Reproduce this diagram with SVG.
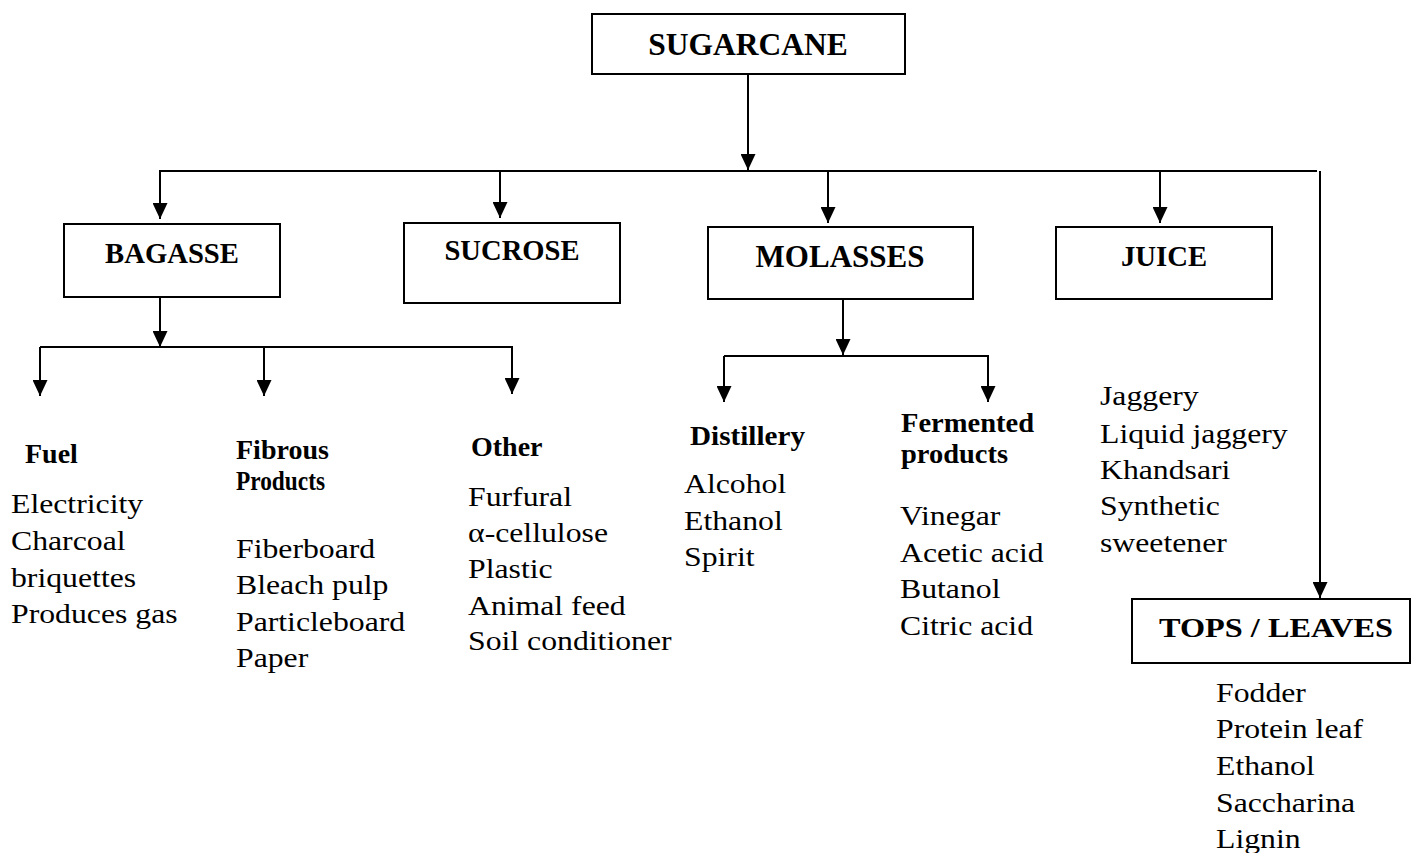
<svg xmlns="http://www.w3.org/2000/svg" width="1412" height="853" viewBox="0 0 1412 853">
  <style>
    .box { fill: #fff; stroke: #000; stroke-width: 2; }
    .wire { fill: none; stroke: #000; stroke-width: 2; }
    .title { font-family: "Liberation Serif", "Times New Roman", serif; font-weight: bold; fill: #000; text-anchor: middle; }
    .head { font-family: "Liberation Serif", "Times New Roman", serif; font-weight: bold; font-size: 28px; fill: #000; }
    .item { font-family: "Liberation Serif", "Times New Roman", serif; font-size: 27.6px; fill: #000; }
  </style>
  <defs>
    <marker id="arrow" markerUnits="userSpaceOnUse" markerWidth="16" markerHeight="15" refX="16" refY="7.5" orient="auto">
      <path d="M0,0 L16,7.5 L0,15 Z" fill="#000"/>
    </marker>
  </defs>

  <rect width="1412" height="853" fill="#fff"/>

  <!-- connectors -->
  <g id="connectors">
    <line class="wire" x1="748" y1="74" x2="748" y2="170" marker-end="url(#arrow)"/>
    <line class="wire" x1="159" y1="171" x2="1317" y2="171"/>
    <line class="wire" x1="160" y1="171" x2="160" y2="219" marker-end="url(#arrow)"/>
    <line class="wire" x1="500" y1="171" x2="500" y2="218" marker-end="url(#arrow)"/>
    <line class="wire" x1="828" y1="171" x2="828" y2="223" marker-end="url(#arrow)"/>
    <line class="wire" x1="1160" y1="171" x2="1160" y2="223" marker-end="url(#arrow)"/>
    <line class="wire" x1="1320" y1="171" x2="1320" y2="598" marker-end="url(#arrow)"/>

    <!-- bagasse branches -->
    <line class="wire" x1="160" y1="297" x2="160" y2="347" marker-end="url(#arrow)"/>
    <line class="wire" x1="40" y1="347" x2="513" y2="347"/>
    <line class="wire" x1="40" y1="347" x2="40" y2="396" marker-end="url(#arrow)"/>
    <line class="wire" x1="264" y1="347" x2="264" y2="396" marker-end="url(#arrow)"/>
    <line class="wire" x1="512" y1="347" x2="512" y2="394" marker-end="url(#arrow)"/>

    <!-- molasses branches -->
    <line class="wire" x1="843" y1="299" x2="843" y2="355" marker-end="url(#arrow)"/>
    <line class="wire" x1="724" y1="356" x2="989" y2="356"/>
    <line class="wire" x1="724" y1="356" x2="724" y2="402" marker-end="url(#arrow)"/>
    <line class="wire" x1="988" y1="356" x2="988" y2="402" marker-end="url(#arrow)"/>
  </g>

  <g id="sugarcane">
    <rect class="box" x="592" y="14" width="313" height="60"/>
    <text class="title" x="748" y="55" font-size="31.5">SUGARCANE</text>
  </g>

  <g id="bagasse">
    <rect class="box" x="64" y="224" width="216" height="73"/>
    <text class="title" x="172" y="263" font-size="28.7">BAGASSE</text>
  </g>

  <g id="sucrose">
    <rect class="box" x="404" y="223" width="216" height="80"/>
    <text class="title" x="512" y="260" font-size="28.6">SUCROSE</text>
  </g>

  <g id="molasses">
    <rect class="box" x="708" y="227" width="265" height="72"/>
    <text class="title" x="840" y="267" font-size="31">MOLASSES</text>
  </g>

  <g id="juice">
    <rect class="box" x="1056" y="227" width="216" height="72"/>
    <text class="title" x="1164" y="266" font-size="28.7">JUICE</text>
  </g>

  <g id="tops-leaves">
    <rect class="box" x="1132" y="599" width="278" height="64"/>
    <text class="title" x="1276" y="637" font-size="28.2" textLength="234" lengthAdjust="spacingAndGlyphs">TOPS / LEAVES</text>
  </g>

  <g id="fuel">
    <text class="head" x="25" y="463">Fuel</text>
    <g transform="translate(11 0) scale(1.15 1)">
      <text class="item" x="0" y="513">Electricity</text>
      <text class="item" x="0" y="550">Charcoal</text>
      <text class="item" x="0" y="587">briquettes</text>
      <text class="item" x="0" y="623">Produces gas</text>
    </g>
  </g>

  <g id="fibrous">
    <text class="head" x="236" y="459">Fibrous</text>
    <text class="head" x="236" y="490" font-size="20.5" textLength="89" lengthAdjust="spacingAndGlyphs">Products</text>
    <g transform="translate(236 0) scale(1.15 1)">
      <text class="item" x="0" y="558">Fiberboard</text>
      <text class="item" x="0" y="594">Bleach pulp</text>
      <text class="item" x="0" y="631">Particleboard</text>
      <text class="item" x="0" y="667">Paper</text>
    </g>
  </g>

  <g id="other">
    <text class="head" x="471" y="456">Other</text>
    <g transform="translate(468 0) scale(1.15 1)">
      <text class="item" x="0" y="506">Furfural</text>
      <text class="item" x="0" y="542">α-cellulose</text>
      <text class="item" x="0" y="578">Plastic</text>
      <text class="item" x="0" y="615">Animal feed</text>
      <text class="item" x="0" y="650">Soil conditioner</text>
    </g>
  </g>

  <g id="distillery">
    <text class="head" x="690" y="445" textLength="115" lengthAdjust="spacingAndGlyphs">Distillery</text>
    <g transform="translate(684 0) scale(1.15 1)">
      <text class="item" x="0" y="493">Alcohol</text>
      <text class="item" x="0" y="530">Ethanol</text>
      <text class="item" x="0" y="566">Spirit</text>
    </g>
  </g>

  <g id="fermented">
    <text class="head" x="901" y="432" textLength="133" lengthAdjust="spacingAndGlyphs">Fermented</text>
    <text class="head" x="901" y="463" textLength="107" lengthAdjust="spacingAndGlyphs">products</text>
    <g transform="translate(900 0) scale(1.15 1)">
      <text class="item" x="0" y="525">Vinegar</text>
      <text class="item" x="0" y="562">Acetic acid</text>
      <text class="item" x="0" y="598">Butanol</text>
      <text class="item" x="0" y="635">Citric acid</text>
    </g>
  </g>

  <g id="juice-products">
    <g transform="translate(1100 0) scale(1.15 1)">
      <text class="item" x="0" y="405">Jaggery</text>
      <text class="item" x="0" y="443">Liquid jaggery</text>
      <text class="item" x="0" y="479">Khandsari</text>
      <text class="item" x="0" y="515">Synthetic</text>
      <text class="item" x="0" y="552">sweetener</text>
    </g>
  </g>

  <g id="tops-products">
    <g transform="translate(1216 0) scale(1.15 1)">
      <text class="item" x="0" y="702">Fodder</text>
      <text class="item" x="0" y="738">Protein leaf</text>
      <text class="item" x="0" y="775">Ethanol</text>
      <text class="item" x="0" y="812">Saccharina</text>
      <text class="item" x="0" y="848">Lignin</text>
    </g>
  </g>
</svg>
